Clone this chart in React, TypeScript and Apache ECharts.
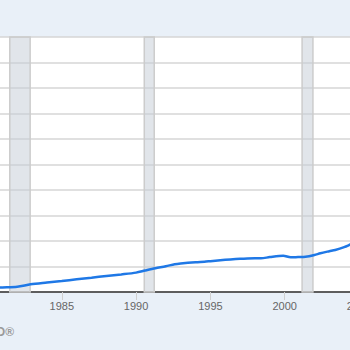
import React, { useEffect, useRef } from "react";
import * as echarts from "echarts";

// Series, year as fractional x, value in arbitrary units
const years = [1980, 1981, 1982, 1982.9, 1984, 1985, 1986, 1987, 1988, 1989, 1990, 1990.6, 1991.3, 1992, 1992.6, 1993, 1994, 1994.6, 1995, 1996, 1996.7, 1997, 1998, 1998.4, 1999, 1999.9, 2000.4, 2000.9, 2001.4, 2002, 2002.4, 2003, 2003.4, 2004, 2004.5, 2005];
const values = [150, 180, 210, 300, 370, 430, 500, 560, 630, 690, 760, 840, 930, 1010, 1090, 1120, 1170, 1190, 1210, 1260, 1290, 1300, 1320, 1320, 1370, 1420, 1360, 1370, 1380, 1450, 1520, 1600, 1650, 1760, 1880, 1990];

// Recession periods
const recessionStarts = [1981.5, 1990.55, 2001.17];
const recessionEnds = [1982.87, 1991.22, 2001.9];

// Axis ticks
const xMin = 1980;
const xMax = 2005;
const xInterval = 5;
const yMin = 0;
const yMax = 10000;
const yInterval = 1000;

export default function App() {
  const ref = useRef<HTMLDivElement>(null);
  useEffect(() => {
    if (!ref.current) return;
    const chart = echarts.init(ref.current, undefined, { renderer: "svg" });
    const data = years.map((y, i) => [y, values[i]]);
    const areas = recessionStarts.map((s, i) => [
      { xAxis: s, yAxis: yMin },
      { xAxis: recessionEnds[i], yAxis: yMax },
    ]);
    chart.setOption({
      animation: false,
      backgroundColor: "#e9f0f8",
      grid: {
        left: -12.5,
        width: 371.5,
        top: 37,
        height: 255,
        containLabel: false,
        outerBoundsMode: "none",
        backgroundColor: "#ffffff",
        show: true,
        borderWidth: 0,
      },
      xAxis: {
        type: "value",
        min: xMin,
        max: xMax,
        interval: xInterval,
        axisLine: { show: true, lineStyle: { color: "#333333", width: 1.5 } },
        axisTick: { show: true, length: 8, lineStyle: { color: "#d0d0d0", width: 1 } },
        splitLine: { show: false },
        axisLabel: {
          show: true,
          margin: 8,
          color: "#666666",
          fontSize: 11,
          fontFamily: "Liberation Sans, Arial, sans-serif",
          showMinLabel: false,
          showMaxLabel: true,
          hideOverlap: false,
          formatter: (v: number) => String(v),
        },
      },
      yAxis: {
        type: "value",
        min: yMin,
        max: yMax,
        interval: yInterval,
        axisLine: { show: false },
        axisTick: { show: false },
        axisLabel: { show: false },
        splitLine: { show: true, lineStyle: { color: "#d6d6d6", width: 1.5 } },
      },
      graphic: [
        {
          type: "text",
          x: 14,
          y: 332,
          style: {
            text: "FRED®",
            align: "right",
            verticalAlign: "middle",
            fill: "#9a9a9a",
            font: "bold 12px 'Liberation Sans', Arial, sans-serif",
          },
        },
      ],
      series: [
        {
          type: "line",
          data,
          showSymbol: false,
          smooth: 0.3,
          lineStyle: { color: "#1f78e6", width: 2.5 },
          z: 3,
          markArea: {
            silent: true,
            itemStyle: { color: "rgba(195,203,213,0.5)", borderColor: "#cccccc", borderWidth: 1.5 },
            data: areas,
          },
        },
      ],
    });
    return () => chart.dispose();
  }, []);
  return <div ref={ref} style={{ position: "fixed", left: 0, top: 0, width: 350, height: 350 }} />;
}
